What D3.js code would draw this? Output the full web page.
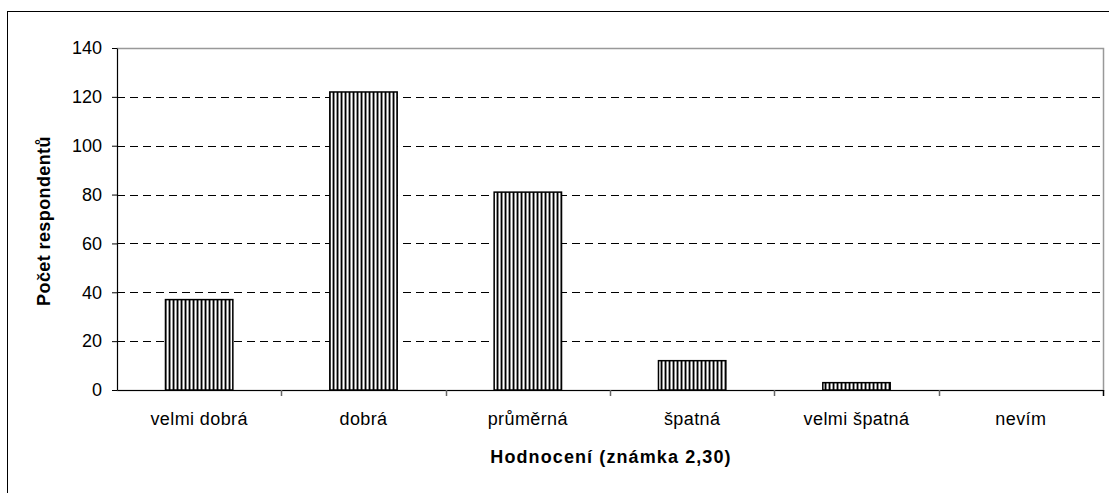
<!DOCTYPE html>
<html>
<head>
<meta charset="utf-8">
<script src="https://cdn.jsdelivr.net/npm/d3@7"></script>
<style>
  body { margin: 0; background: #fff; }
  svg text { font-family: Arial, "Liberation Sans", sans-serif; fill: #000; }
</style>
</head>
<body>
<div id="viz"></div>
<script>
// Data
const categories = ['velmi dobrá', 'dobrá', 'průměrná', 'špatná', 'velmi špatná', 'nevím'];
const values = [37, 122, 81, 12, 3, 0];
const yTicks = [0, 20, 40, 60, 80, 100, 120, 140];
const yTitle = 'Počet respondentů';
const xTitle = 'Hodnocení (známka 2,30)';

const W = 1109, H = 493;
const margin = {top: 48, right: 6, bottom: 103, left: 117};
const width = 1103 - margin.left, height = 390 - margin.top;

const svg = d3.select('#viz').append('svg')
    .attr('width', W).attr('height', H);

// stripe pattern
const pat = svg.append('defs').append('pattern')
    .attr('id', 'stripes').attr('patternUnits', 'userSpaceOnUse')
    .attr('width', 4).attr('height', 4);
pat.append('rect').attr('width', 4).attr('height', 4).attr('fill', '#fff');
pat.append('rect').attr('x', 0).attr('width', 1).attr('height', 4).attr('fill', '#000');
pat.append('rect').attr('x', 1).attr('width', 1).attr('height', 4).attr('fill', '#888');
pat.append('rect').attr('x', 3).attr('width', 1).attr('height', 4).attr('fill', '#999');

// outer frame
svg.append('rect')
    .attr('x', 7.5).attr('y', 11.5)
    .attr('width', W).attr('height', H)
    .attr('fill', 'none').attr('stroke', '#000').attr('stroke-width', 1);

const g = svg.append('g').attr('transform', 'translate(' + margin.left + ',' + margin.top + ')');

const x = d3.scaleBand().domain(categories).range([0, width]).paddingInner(0).paddingOuter(0);
const y = d3.scaleLinear().domain([0, 140]).range([height, 0]);

// plot area border
g.append('rect')
    .attr('x', 0.5).attr('y', 0.5)
    .attr('width', width).attr('height', height)
    .attr('fill', 'none').attr('stroke', '#999').attr('stroke-width', 1.5);

// gridlines
g.selectAll('.grid').data(yTicks.filter(d => d > 0 && d < 140)).enter()
    .append('line')
    .attr('x1', 0).attr('x2', width)
    .attr('y1', d => Math.round(y(d)) + 0.5).attr('y2', d => Math.round(y(d)) + 0.5)
    .attr('stroke', '#000').attr('stroke-dasharray', '8,5');

// bars
const barW = x.bandwidth() * 0.41;
g.selectAll('.bar').data(values).enter()
    .append('rect')
    .attr('x', (d, i) => x(categories[i]) + (x.bandwidth() - barW) / 2)
    .attr('y', d => y(d))
    .attr('width', barW)
    .attr('height', d => height - y(d))
    .attr('fill', 'url(#stripes)')
    .attr('stroke', '#000').attr('stroke-width', 1.5)
    .style('display', d => d > 0 ? null : 'none');

// y axis
const yAxis = g.append('g')
    .call(d3.axisLeft(y).tickValues(yTicks).tickSize(5).tickPadding(10).tickSizeOuter(0));
yAxis.select('.domain').attr('stroke', '#000');
yAxis.selectAll('.tick line').attr('stroke', '#000');
yAxis.selectAll('text').style('font-size', '18px').attr('fill', '#000');

// x axis
const xAxis = g.append('g').attr('transform', 'translate(0,' + height + ')')
    .call(d3.axisBottom(x).tickSize(0).tickPadding(22));
xAxis.select('.domain').attr('stroke', '#000');
xAxis.selectAll('text').style('font-size', '18px').style('letter-spacing', '0.4px').attr('fill', '#000');
// ticks between categories
g.selectAll('.xtick').data(d3.range(1, categories.length + 1)).enter()
    .append('line')
    .attr('x1', i => Math.round(i * x.step()) + 0.5).attr('x2', i => Math.round(i * x.step()) + 0.5)
    .attr('y1', height).attr('y2', height + 6)
    .attr('stroke', i => i === categories.length ? '#000' : '#666').attr('stroke-width', 1.5);

// titles
svg.append('text')
    .attr('transform', 'translate(50,221) rotate(-90)')
    .attr('text-anchor', 'middle')
    .style('font-size', '18px').style('font-weight', 'bold').style('letter-spacing', '0.4px')
    .text(yTitle);

svg.append('text')
    .attr('x', 611).attr('y', 463)
    .attr('text-anchor', 'middle')
    .style('font-size', '18px').style('font-weight', 'bold').style('letter-spacing', '1.1px')
    .text(xTitle);
</script>
</body>
</html>
